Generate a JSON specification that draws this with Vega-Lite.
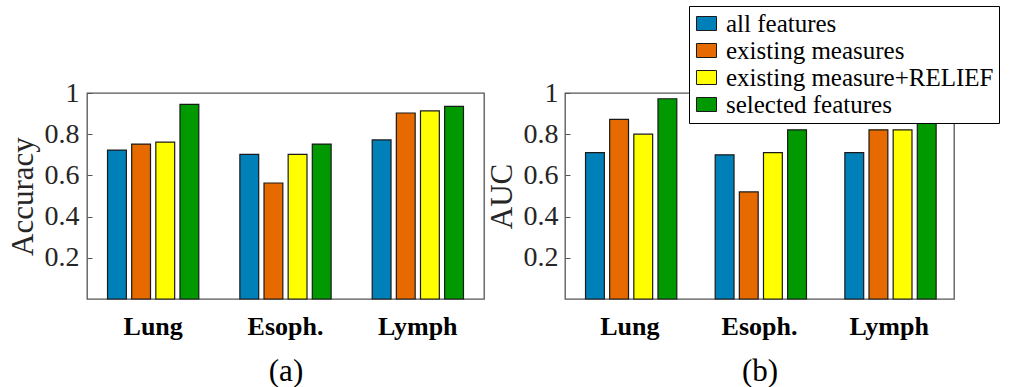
{
  "$schema": "https://vega.github.io/schema/vega-lite/v6.json",
  "autosize": {"type": "pad"},
  "padding": {"left": 6, "top": 4, "right": 0, "bottom": 0},
  "background": "white",
  "bounds": "flush",
  "spacing": 81,
  "config": {
    "font": "Liberation Serif",
    "view": {"stroke": "#555555", "strokeWidth": 1.3},
    "axis": {"labelColor": "#262626", "titleColor": "#262626", "labelFont": "Liberation Serif", "titleFont": "Liberation Serif"}
  },
  "datasets": {
    "acc": [
      {"dataset": "Lung", "method": "all features", "value": 0.723},
      {"dataset": "Lung", "method": "existing measures", "value": 0.752},
      {"dataset": "Lung", "method": "existing measure+RELIEF", "value": 0.762},
      {"dataset": "Lung", "method": "selected features", "value": 0.945},
      {"dataset": "Esoph.", "method": "all features", "value": 0.702},
      {"dataset": "Esoph.", "method": "existing measures", "value": 0.563},
      {"dataset": "Esoph.", "method": "existing measure+RELIEF", "value": 0.702},
      {"dataset": "Esoph.", "method": "selected features", "value": 0.752},
      {"dataset": "Lymph", "method": "all features", "value": 0.772},
      {"dataset": "Lymph", "method": "existing measures", "value": 0.903},
      {"dataset": "Lymph", "method": "existing measure+RELIEF", "value": 0.913},
      {"dataset": "Lymph", "method": "selected features", "value": 0.935}
    ],
    "auc": [
      {"dataset": "Lung", "method": "all features", "value": 0.711},
      {"dataset": "Lung", "method": "existing measures", "value": 0.872},
      {"dataset": "Lung", "method": "existing measure+RELIEF", "value": 0.8},
      {"dataset": "Lung", "method": "selected features", "value": 0.972},
      {"dataset": "Esoph.", "method": "all features", "value": 0.7},
      {"dataset": "Esoph.", "method": "existing measures", "value": 0.52},
      {"dataset": "Esoph.", "method": "existing measure+RELIEF", "value": 0.711},
      {"dataset": "Esoph.", "method": "selected features", "value": 0.821},
      {"dataset": "Lymph", "method": "all features", "value": 0.711},
      {"dataset": "Lymph", "method": "existing measures", "value": 0.821},
      {"dataset": "Lymph", "method": "existing measure+RELIEF", "value": 0.821},
      {"dataset": "Lymph", "method": "selected features", "value": 0.882}
    ]
  },
  "resolve": {"legend": {"color": "independent"}},
  "hconcat": [
    {
      "data": {"name": "acc"},
      "width": 397,
      "height": 206,
      "mark": {"type": "bar", "stroke": "#1a1a1a", "strokeWidth": 1.2},
      "encoding": {
        "x": {
          "field": "dataset", "type": "nominal", "sort": ["Lung", "Esoph.", "Lymph"],
          "scale": {"paddingInner": 0, "paddingOuter": 0},
          "axis": {"title": "(a)", "labelAngle": 0, "labelFontWeight": "bold", "labelFontSize": 26, "labelColor": "black", "ticks": false, "domain": false, "labelPadding": 14, "titleFontSize": 31, "titleFontWeight": "normal", "titleColor": "black", "titlePadding": 17}
        },
        "xOffset": {
          "field": "method", "type": "nominal",
          "sort": ["all features", "existing measures", "existing measure+RELIEF", "selected features"],
          "scale": {"paddingInner": 0.22, "paddingOuter": 0.85}
        },
        "y": {
          "field": "value", "type": "quantitative", "scale": {"domain": [0, 1]},
          "axis": {"title": "Accuracy", "values": [0.2, 0.4, 0.6, 0.8, 1], "labelExpr": "datum.value == 1 ? '1' : format(datum.value, '.1f')", "grid": false, "domain": false, "tickSize": -5, "tickColor": "#555555", "labelPadding": 13, "labelFontSize": 28, "titleFontSize": 31, "titleFontWeight": "normal", "titlePadding": 5}
        },
        "color": {
          "field": "method", "type": "nominal",
          "scale": {"domain": ["all features", "existing measures", "existing measure+RELIEF", "selected features"], "range": ["#0080B8", "#E66A00", "#FFFF00", "#009900"]},
          "legend": null
        }
      }
    },
    {
      "data": {"name": "auc"},
      "width": 389,
      "height": 206,
      "mark": {"type": "bar", "stroke": "#1a1a1a", "strokeWidth": 1.2},
      "encoding": {
        "x": {
          "field": "dataset", "type": "nominal", "sort": ["Lung", "Esoph.", "Lymph"],
          "scale": {"paddingInner": 0, "paddingOuter": 0},
          "axis": {"title": "(b)", "labelAngle": 0, "labelFontWeight": "bold", "labelFontSize": 26, "labelColor": "black", "ticks": false, "domain": false, "labelPadding": 14, "titleFontSize": 31, "titleFontWeight": "normal", "titleColor": "black", "titlePadding": 17}
        },
        "xOffset": {
          "field": "method", "type": "nominal",
          "sort": ["all features", "existing measures", "existing measure+RELIEF", "selected features"],
          "scale": {"paddingInner": 0.2, "paddingOuter": 0.8}
        },
        "y": {
          "field": "value", "type": "quantitative", "scale": {"domain": [0, 1]},
          "axis": {"title": "AUC", "values": [0.2, 0.4, 0.6, 0.8, 1], "labelExpr": "datum.value == 1 ? '1' : format(datum.value, '.1f')", "grid": false, "domain": false, "tickSize": -5, "tickColor": "#555555", "labelPadding": 12, "labelFontSize": 28, "titleFontSize": 31, "titleFontWeight": "normal", "titlePadding": 5}
        },
        "color": {
          "field": "method", "type": "nominal",
          "scale": {"domain": ["all features", "existing measures", "existing measure+RELIEF", "selected features"], "range": ["#0080B8", "#E66A00", "#FFFF00", "#009900"]},
          "legend": {
            "title": null, "orient": "none", "legendX": 124, "legendY": -87,
            "strokeColor": "black", "fillColor": "white", "padding": 5,
            "symbolType": "M-1,-0.7H1V0.7H-1Z", "symbolSize": 400, "symbolStrokeColor": "#1a1a1a", "symbolStrokeWidth": 1,
            "labelFont": "Liberation Serif", "labelFontSize": 25, "labelColor": "black", "labelOffset": 7, "rowPadding": 1, "labelLimit": 400
          }
        }
      }
    }
  ]
}
